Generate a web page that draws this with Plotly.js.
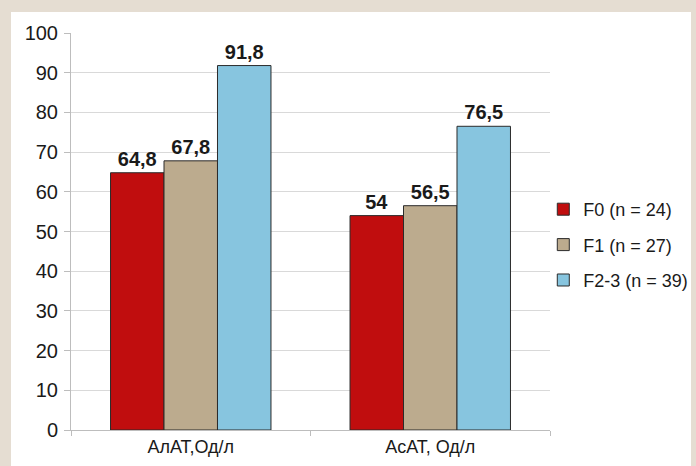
<!DOCTYPE html>
<html>
<head>
<meta charset="utf-8">
<script src="https://cdn.plot.ly/plotly-3.0.1.min.js"></script>
<style>
  html, body { margin: 0; padding: 0; background: #e5ddd2; width: 696px; height: 466px; overflow: hidden; }
  #chart { position: absolute; left: 11px; top: 12px; width: 680px; height: 454px; background: #ffffff; }
</style>
</head>
<body>
<div id="chart"></div>
<script>
const categories = ["АлАТ,Од/л", "АсАТ, Од/л"];
const seriesNames = ["F0 (n = 24)", "F1 (n = 27)", "F2-3 (n = 39)"];
const f0Values = [64.8, 54];
const f1Values = [67.8, 56.5];
const f23Values = [91.8, 76.5];
const seriesColors = ["#c00d0e", "#bcab8e", "#87c5df"];

const allValues = [f0Values, f1Values, f23Values];
const fmt = v => String(v).replace('.', ',');

const traces = allValues.map((vals, i) => ({
  type: 'bar',
  name: seriesNames[i],
  x: categories,
  y: vals,
  text: vals.map(fmt),
  textposition: 'outside',
  cliponaxis: false,
  textfont: { family: 'Liberation Sans, Arial, sans-serif', size: 20, color: '#1a1a1a', weight: 'bold' },
  marker: { color: seriesColors[i], line: { color: '#2b2b2b', width: 1 } },
  legendgroup: 'g' + i
}));

const layout = {
  width: 680,
  height: 454,
  margin: { l: 60, r: 141, t: 21, b: 36, autoexpand: false },
  paper_bgcolor: '#ffffff',
  plot_bgcolor: '#ffffff',
  font: { family: 'Liberation Sans, Arial, sans-serif', size: 19, color: '#1a1a1a' },
  barmode: 'group',
  bargap: 0.33,
  bargroupgap: 0,
  showlegend: true,
  legend: {
    x: 0.986, xanchor: 'left', y: 0.466, yanchor: 'middle',
    font: { size: 18, color: '#1a1a1a' },
    traceorder: 'grouped',
    tracegroupgap: 9,
    itemwidth: 30,
    bgcolor: 'rgba(0,0,0,0)'
  },
  xaxis: {
    type: 'category',
    showline: true, linecolor: '#bdbdbd', linewidth: 1,
    ticks: 'outside', tickson: 'boundaries', ticklen: 5, tickcolor: '#bdbdbd',
    tickfont: { size: 18 },
    showgrid: false,
    zeroline: false
  },
  yaxis: {
    range: [0, 100], dtick: 10,
    showline: true, linecolor: '#bdbdbd', linewidth: 1,
    ticks: 'outside', ticklen: 6, tickcolor: '#bdbdbd',
    gridcolor: '#d9d9d9', gridwidth: 1,
    tickfont: { size: 20 },
    ticklabelstandoff: 2,
    zeroline: false
  }
};

Plotly.newPlot('chart', traces, layout, { displayModeBar: false, staticPlot: true });
</script>
</body>
</html>
